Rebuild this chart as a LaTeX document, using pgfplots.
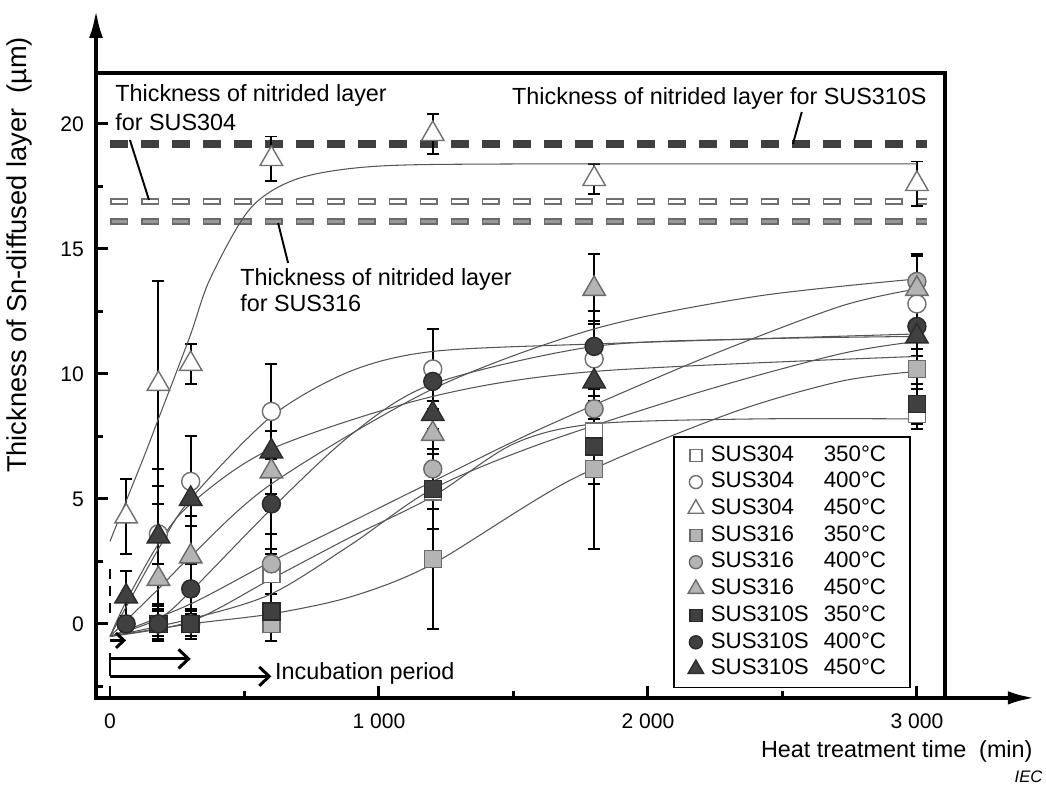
\documentclass[border=0pt]{standalone}
\usepackage{fontspec}
\setmainfont{Liberation Sans}
\usepackage{pgfplots}
\pgfplotsset{compat=1.18}
\usetikzlibrary{arrows.meta}

\definecolor{openedge}{HTML}{707070}
\definecolor{grayfill}{HTML}{B4B4B4}
\definecolor{grayedge}{HTML}{6A6A6A}
\definecolor{darkfill}{HTML}{404040}
\definecolor{darkedge}{HTML}{2A2A2A}
\definecolor{fitline}{HTML}{555555}

\pgfplotsset{
  ebar/.style={error bars/y dir=both, error bars/y explicit,
    error bars/error bar style={black, line width=1.1pt},
    error bars/error mark options={black, line width=1.1pt, mark size=0.12cm, rotate=90}},
  opn/.style={forget plot, only marks, ebar, mark options={fill=white, draw=openedge, line width=0.8pt}},
  gry/.style={forget plot, only marks, ebar, mark options={fill=grayfill, draw=grayedge, line width=0.8pt}},
  drk/.style={forget plot, only marks, ebar, mark options={fill=darkfill, draw=darkedge, line width=0.8pt}},
  sq/.style={mark=square*, mark size=0.17cm},
  ci/.style={mark=*, mark size=0.18cm},
  tr/.style={mark=triangle*, mark size=0.26cm},
  fit/.style={forget plot, fitline, line width=0.6pt, smooth, tension=0.5, no markers},
  limg/.style={legend image code/.code={\path[draw=none] (0cm,0cm) -- (0.6cm,0cm);
    \draw[##1] plot coordinates {(0.3cm,0cm)};}},
}
\tikzset{annot/.style={inner sep=0pt, font=\fontsize{13.3}{16}\selectfont}}
\newcommand{\ent}[2]{\makebox[3.84cm][l]{\makebox[2.26cm][l]{#1}#2}}

\begin{document}
\begin{tikzpicture}
\begin{axis}[
  scale only axis, width=16.98cm, height=12.5cm,
  xmin=-52, xmax=3104, ymin=-2.96, ymax=22.04,
  clip=false,
  axis line style={line width=2.2pt},
  xtick={0,1000,2000,3000}, xticklabels={0,1~000,2~000,3~000},
  minor xtick={500,1500,2500},
  ytick={0,5,10,15,20}, minor ytick={-2.5,2.5,7.5,12.5,17.5},
  xtick pos=left, ytick pos=left, tick align=inside,
  major tick length=0.24cm, minor tick length=0.14cm,
  every tick/.style={black, line width=1.7pt},
  tick label style={font=\fontsize{12}{14}\selectfont},
  /pgf/number format/assume math mode=true,
  xticklabel style={yshift=-0.2cm},
  yticklabel style={xshift=-0.12cm},
  legend style={at={(axis description cs:0.6796,0.4192)}, anchor=north west,
    draw=black, line width=1.1pt, fill=white, inner xsep=0.14cm, inner ysep=0.15cm,
    font=\fontsize{12.7}{15}\selectfont, row sep=2.7pt, column sep=0pt,
    nodes={inner sep=0pt, text height=9.5pt, text depth=3pt}},
  legend cell align=left,
]

% nitrided layer thickness
\addplot[forget plot, color=darkfill, line width=0.15cm, dash pattern=on 0.36cm off 0.26cm] coordinates {(0,19.2) (3037,19.2)};
\addplot[forget plot, color=openedge, line width=0.13cm, dash pattern=on 0.36cm off 0.26cm] coordinates {(0,16.9) (3037,16.9)};
\addplot[forget plot, color=white, line width=0.07cm, dash pattern=on 0.30cm off 0.32cm, dash phase=0.59cm] coordinates {(0,16.9) (3037,16.9)};
\addplot[forget plot, color=grayedge, line width=0.13cm, dash pattern=on 0.36cm off 0.26cm] coordinates {(0,16.1) (3037,16.1)};
\addplot[forget plot, color=grayfill!85!black, line width=0.07cm, dash pattern=on 0.30cm off 0.32cm, dash phase=0.59cm] coordinates {(0,16.1) (3037,16.1)};

% SUS304
\addplot[opn, sq] coordinates {(180,0) +- (0,0.5) (300,0) +- (0,0.5) (600,2.0) +- (0,0.8) (1200,5.3) +- (0,1.5) (1800,7.7) +- (0,1.2) (3000,8.4) +- (0,0.6)};
\addplot[opn, ci] coordinates {(180,3.6) +- (0,1.2) (300,5.7) +- (0,1.8) (600,8.5) +- (0,1.9) (1200,10.2) +- (0,1.6) (1800,10.6) +- (0,1.5) (3000,12.8) +- (0,1.0)};
\addplot[opn, tr] coordinates {(60,4.3) +- (0,1.5) (180,9.6) +- (0,4.1) (300,10.4) +- (0,0.8) (600,18.6) +- (0,0.9) (1200,19.6) +- (0,0.8) (1800,17.8) +- (0,0.6) (3000,17.6) +- (0,0.9)};
% SUS316
\addplot[gry, sq] coordinates {(180,0) +- (0,0.7) (300,0) +- (0,0.6) (600,0) +- (0,0.7) (1200,2.6) +- (0,2.8) (1800,6.2) +- (0,3.2) (3000,10.2) +- (0,0.8)};
\addplot[gry, ci] coordinates {(180,0) +- (0,0.6) (300,0) +- (0,0.5) (600,2.4) +- (0,1.2) (1200,6.2) +- (0,1.6) (1800,8.6) +- (0,1.2) (3000,13.7) +- (0,1.0)};
\addplot[gry, tr] coordinates {(180,1.8) +- (0,1.5) (300,2.7) +- (0,1.6) (600,6.1) +- (0,1.6) (1200,7.6) +- (0,1.3) (1800,13.4) +- (0,1.4) (3000,13.4) +- (0,1.4)};
% SUS310S
\addplot[drk, sq] coordinates {(180,0) +- (0,0.5) (300,0) +- (0,0.6) (600,0.5) +- (0,0.7) (1200,5.4) +- (0,1.6) (1800,7.1) +- (0,1.5) (3000,8.8) +- (0,0.8)};
\addplot[drk, ci] coordinates {(60,0) +- (0,0.3) (180,0) +- (0,0.6) (300,1.4) +- (0,1.0) (600,4.8) +- (0,1.8) (1200,9.7) +- (0,2.1) (1800,11.1) +- (0,1.4) (3000,11.9) +- (0,1.2)};
\addplot[drk, tr] coordinates {(60,1.1) +- (0,1.0) (180,3.5) +- (0,2.7) (300,5.0) +- (0,2.5) (600,6.9) +- (0,1.7) (1200,8.4) +- (0,1.4) (1800,9.7) +- (0,1.5) (3000,11.5) +- (0,1.3)};

% fitted curves
\addplot[fit] coordinates {(0,3.3) (48,4.6) (123,6.6) (180,8.2) (297,11.5) (372,13.8) (520,16.6) (695,17.8) (978,18.3) (1500,18.4) (3000,18.4)};
\addplot[fit] coordinates {(0,-0.5) (180,3.0) (300,5.0) (600,8.3) (892,10.1) (1200,10.9) (1800,11.2) (3000,11.6)};
\addplot[fit] coordinates {(0,-0.5) (180,0.2) (300,1.3) (600,4.6) (900,7.6) (1200,9.6) (1800,11.1) (2400,11.4) (3000,11.5)};
\addplot[fit] coordinates {(0,-0.5) (60,0.9) (180,3.2) (300,4.8) (600,7.0) (1200,9.1) (1800,10.1) (3000,10.7)};
\addplot[fit] coordinates {(0,-0.5) (180,1.4) (300,2.7) (600,5.6) (1200,9.4) (1800,11.8) (2400,13.1) (3000,13.8)};
\addplot[fit] coordinates {(0,-0.5) (300,0.8) (600,2.5) (900,4.1) (1200,5.7) (1600,7.8) (2200,10.6) (2714,12.7) (3000,13.4)};
\addplot[fit] coordinates {(0,-0.5) (300,0.2) (600,1.2) (900,3.2) (1200,5.4) (1600,7.2) (2200,9.3) (2714,10.8) (3000,11.3)};
\addplot[fit] coordinates {(0,-0.5) (300,0.1) (600,1.8) (900,3.5) (1200,5.1) (1500,7.2) (1800,8.0) (2400,8.2) (3000,8.2)};
\addplot[fit] coordinates {(0,-0.5) (300,0.0) (600,0.4) (900,1.1) (1200,2.4) (1720,5.8) (2300,8.4) (2714,9.7) (3000,10.1)};

% legend
\addlegendimage{only marks, limg, sq, mark size=0.12cm, mark options={fill=white, draw=openedge, line width=0.8pt}}
\addlegendentry{\ent{SUS304}{350°C}}
\addlegendimage{only marks, limg, ci, mark size=0.13cm, mark options={fill=white, draw=openedge, line width=0.8pt}}
\addlegendentry{\ent{SUS304}{400°C}}
\addlegendimage{only marks, limg, tr, mark size=0.18cm, mark options={fill=white, draw=openedge, line width=0.8pt}}
\addlegendentry{\ent{SUS304}{450°C}}
\addlegendimage{only marks, limg, sq, mark size=0.12cm, mark options={fill=grayfill, draw=grayedge, line width=0.8pt}}
\addlegendentry{\ent{SUS316}{350°C}}
\addlegendimage{only marks, limg, ci, mark size=0.13cm, mark options={fill=grayfill, draw=grayedge, line width=0.8pt}}
\addlegendentry{\ent{SUS316}{400°C}}
\addlegendimage{only marks, limg, tr, mark size=0.18cm, mark options={fill=grayfill, draw=grayedge, line width=0.8pt}}
\addlegendentry{\ent{SUS316}{450°C}}
\addlegendimage{only marks, limg, sq, mark size=0.12cm, mark options={fill=darkfill, draw=darkedge, line width=0.8pt}}
\addlegendentry{\ent{SUS310S}{350°C}}
\addlegendimage{only marks, limg, ci, mark size=0.13cm, mark options={fill=darkfill, draw=darkedge, line width=0.8pt}}
\addlegendentry{\ent{SUS310S}{400°C}}
\addlegendimage{only marks, limg, tr, mark size=0.18cm, mark options={fill=darkfill, draw=darkedge, line width=0.8pt}}
\addlegendentry{\ent{SUS310S}{450°C}}

% axis arrows
\draw[line width=2.2pt, -{Latex[length=0.56cm,width=0.28cm]}] (axis description cs:0,1) -- (axis description cs:0,1.1008);
\draw[line width=2.2pt, -{Latex[length=0.54cm,width=0.27cm]}] (axis description cs:1,0) -- (axis description cs:1.106,0);

% annotations
\node[annot, anchor=base west] at (axis cs:18.6,20.88) {Thickness of nitrided layer};
\node[annot, anchor=base west] at (axis cs:18.6,19.72) {for SUS304};
\draw[line width=1.1pt] (axis cs:74,19.36) -- (axis cs:145,16.96);
\node[annot, anchor=base east] at (axis cs:3037,20.76) {Thickness of nitrided layer for SUS310S};
\draw[line width=1.1pt] (axis cs:2572,20.48) -- (axis cs:2539,19.2);
\node[annot, anchor=base west] at (axis cs:483,13.52) {Thickness of nitrided layer};
\node[annot, anchor=base west] at (axis cs:483,12.48) {for SUS316};
\draw[line width=1.1pt] (axis cs:625,16.04) -- (axis cs:662,14.44);
\node[annot, anchor=base west] at (axis cs:613,-2.24) {Incubation period};
\node[annot, anchor=base east] at (axis cs:3431,-5.36) {Heat treatment time\ \ (min)};
\node[inner sep=0pt, font=\fontsize{15.5}{18}\selectfont, rotate=90, anchor=center] at (axis cs:-335,14.76) {Thickness of Sn-diffused layer\ \ (µm)};
\node[anchor=base east, inner sep=0pt, font=\fontsize{9.5}{11}\selectfont\itshape] at (axis cs:3468,-6.36) {IEC};

% incubation period marks
\draw[line width=1.7pt, dash pattern=on 0.2cm off 0.14cm] (axis cs:0,2.2) -- (axis cs:0,0.2);
\draw[line width=1.7pt, -{Straight Barb[length=0.16cm,width=0.3cm]}] (axis cs:0,-0.66) -- (axis cs:60,-0.66);
\draw[line width=1.7pt] (axis cs:0,-1.15) -- (axis cs:0,-2.1);
\draw[line width=1.7pt, -{Straight Barb[length=0.2cm,width=0.38cm]}] (axis cs:0,-1.4) -- (axis cs:300,-1.4);
\draw[line width=1.7pt, -{Straight Barb[length=0.2cm,width=0.38cm]}] (axis cs:0,-2.1) -- (axis cs:600,-2.1);

\coordinate (bbll) at (axis cs:-409,-6.44);
\coordinate (bbur) at (axis cs:3480,24.96);
\end{axis}
\pgfresetboundingbox
\useasboundingbox (bbll) rectangle (bbur);
\end{tikzpicture}
\end{document}
